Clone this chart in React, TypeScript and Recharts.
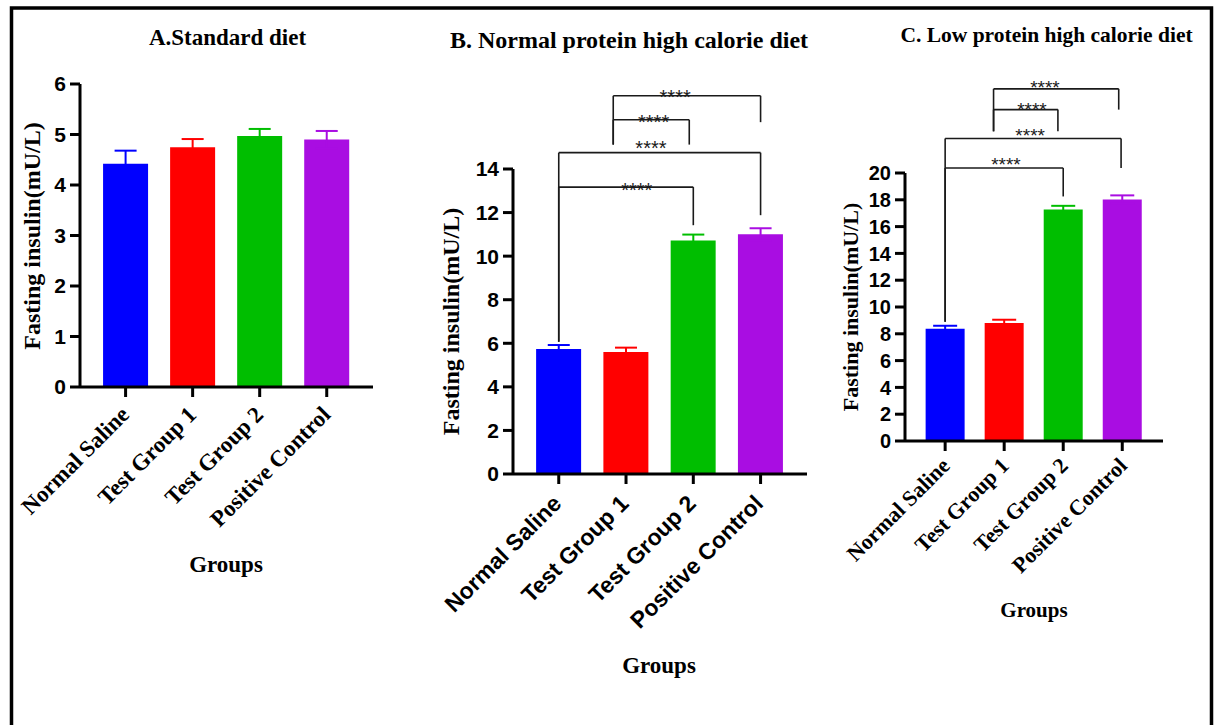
import React from 'react';
import {
  ComposedChart,
  Bar,
  Cell,
  Scatter,
  ErrorBar,
  XAxis,
  YAxis,
  ReferenceLine,
  ReferenceDot,
} from 'recharts';

const SERIF = "'Liberation Serif', 'Times New Roman', serif";
const SANS = "'Liberation Sans', Arial, sans-serif";

const groups = ['Normal Saline', 'Test Group 1', 'Test Group 2', 'Positive Control'];
const groupColors = ['#0000FF', '#FF0000', '#00BE00', '#A90DE2'];

// A. Standard diet
const standardMean = [4.42, 4.75, 4.97, 4.9];
const standardSem = [0.26, 0.16, 0.14, 0.17];
const standardTicks = [0, 1, 2, 3, 4, 5, 6];

// B. Normal protein high calorie diet
const normalProteinMean = [5.74, 5.6, 10.72, 11.0];
const normalProteinSem = [0.18, 0.2, 0.27, 0.28];
const normalProteinTicks = [0, 2, 4, 6, 8, 10, 12, 14];

// C. Low protein high calorie diet
const lowProteinMean = [8.38, 8.8, 17.28, 18.02];
const lowProteinSem = [0.22, 0.25, 0.27, 0.31];
const lowProteinTicks = [0, 2, 4, 6, 8, 10, 12, 14, 16, 18, 20];

type Bracket = {
  from: number;
  to: number;
  level: number;
  fromEnd: number;
  toEnd: number;
  starAt: number;
  starLevel: number;
};

// significance brackets (group index on x, insulin value on y)
const normalProteinBrackets: Bracket[] = [
  { from: 0, to: 2, level: 13.17, fromEnd: 6.07, toEnd: 11.42, starAt: 1.16, starLevel: 13.1 },
  { from: 0, to: 3, level: 14.75, fromEnd: 6.07, toEnd: 11.88, starAt: 1.37, starLevel: 15.04 },
  { from: 0.81, to: 1.94, level: 16.26, fromEnd: 15.12, toEnd: 15.12, starAt: 1.41, starLevel: 16.22 },
  { from: 0.81, to: 3, level: 17.36, fromEnd: 15.12, toEnd: 16.15, starAt: 1.73, starLevel: 17.37 },
];

const lowProteinBrackets: Bracket[] = [
  { from: 0, to: 2, level: 20.37, fromEnd: 8.9, toEnd: 18.25, starAt: 1.03, starLevel: 20.79 },
  { from: 0, to: 2.98, level: 22.57, fromEnd: 8.9, toEnd: 20.37, starAt: 1.44, starLevel: 22.94 },
  { from: 0.82, to: 1.91, level: 24.73, fromEnd: 23.11, toEnd: 23.11, starAt: 1.47, starLevel: 24.83 },
  { from: 0.82, to: 2.94, level: 26.28, fromEnd: 23.11, toEnd: 24.73, starAt: 1.69, starLevel: 26.48 },
];

const axisStyle = { stroke: '#000', strokeWidth: 3 };

interface PanelProps {
  mean: number[];
  sem: number[];
  ticks: number[];
  brackets: Bracket[];
  left: number;
  width: number;
  height: number;
  plotTop: number;
  plotBottom: number;
  yAxisWidth: number;
  right: number;
  barSize: number;
  capWidth: number;
  tickSize: number;
  labelFont: string;
  labelSize: number;
  labelShift: [number, number];
  starSize: number;
}

const Panel: React.FC<PanelProps> = (p) => {
  const rows = p.mean.map((m, i) => ({ x: i, mean: m, sem: p.sem[i] }));

  const renderGroupTick = (props: any) => {
    const { x, y, payload } = props;
    return (
      <text
        x={0}
        y={0}
        transform={`translate(${x + p.labelShift[0]},${y + p.labelShift[1]}) rotate(-45)`}
        textAnchor="end"
        fontFamily={p.labelFont}
        fontWeight={700}
        fontSize={p.labelSize}
        fill="#000"
      >
        {groups[payload.value]}
      </text>
    );
  };

  const bracketLine = { stroke: '#1a1a1a', strokeWidth: 1.6, ifOverflow: 'visible' as const };

  const bracketMarks = p.brackets.flatMap((b, i) => [
    <ReferenceLine
      key={`h${i}`}
      segment={[{ x: b.from, y: b.level }, { x: b.to, y: b.level }]}
      {...bracketLine}
    />,
    <ReferenceLine
      key={`l${i}`}
      segment={[{ x: b.from, y: b.fromEnd }, { x: b.from, y: b.level }]}
      {...bracketLine}
    />,
    <ReferenceLine
      key={`r${i}`}
      segment={[{ x: b.to, y: b.toEnd }, { x: b.to, y: b.level }]}
      {...bracketLine}
    />,
    <ReferenceDot
      key={`s${i}`}
      x={b.starAt}
      y={b.starLevel}
      r={0}
      ifOverflow="visible"
      shape={(d: any) => (
        <text
          x={d.cx}
          y={d.cy + p.starSize * 0.43}
          textAnchor="middle"
          fontFamily={SANS}
          fontSize={p.starSize}
          fill="#1a1a1a"
        >
          ****
        </text>
      )}
    />,
  ]);

  return (
    <div style={{ position: 'absolute', left: p.left, top: 0, width: p.width, height: p.height }}>
      <ComposedChart
        width={p.width}
        height={p.height}
        data={rows}
        margin={{ top: p.plotTop, right: p.right, bottom: 0, left: 0 }}
      >
        <XAxis
          type="number"
          dataKey="x"
          domain={[-0.68, 3.69]}
          ticks={[0, 1, 2, 3]}
          interval={0}
          allowDataOverflow
          height={p.height - p.plotBottom}
          tickSize={10}
          tickMargin={2}
          axisLine={axisStyle}
          tickLine={axisStyle}
          tick={renderGroupTick}
        />
        <YAxis
          type="number"
          domain={[0, p.ticks[p.ticks.length - 1]]}
          ticks={p.ticks}
          interval={0}
          allowDataOverflow
          width={p.yAxisWidth}
          tickSize={10}
          tickMargin={4}
          axisLine={axisStyle}
          tickLine={axisStyle}
          tick={{ fill: '#000', fontSize: p.tickSize, fontWeight: 700, fontFamily: SANS }}
        />
        <Bar dataKey="mean" barSize={p.barSize} isAnimationActive={false}>
          {rows.map((r, i) => (
            <Cell key={`c${i}`} fill={groupColors[i]} />
          ))}
        </Bar>
        {rows.map((r, i) => (
          <Scatter
            key={`e${i}`}
            data={[r]}
            dataKey="mean"
            shape={() => <g />}
            isAnimationActive={false}
          >
            <ErrorBar
              dataKey="sem"
              direction="y"
              width={p.capWidth}
              stroke={groupColors[i]}
              strokeWidth={2}
              isAnimationActive={false}
            />
          </Scatter>
        ))}
        {bracketMarks}
      </ComposedChart>
    </div>
  );
};

const App: React.FC = () => {
  return (
    <div
      style={{
        position: 'absolute',
        left: 0,
        top: 0,
        width: 1216,
        height: 725,
        background: '#fff',
        overflow: 'hidden',
      }}
    >
      <Panel
        mean={standardMean}
        sem={standardSem}
        ticks={standardTicks}
        brackets={[]}
        left={0}
        width={400}
        height={620}
        plotTop={84}
        plotBottom={387}
        yAxisWidth={80}
        right={27}
        barSize={45}
        capWidth={11}
        tickSize={21}
        labelFont={SERIF}
        labelSize={23}
        labelShift={[5, 17]}
        starSize={20}
      />
      <Panel
        mean={normalProteinMean}
        sem={normalProteinSem}
        ticks={normalProteinTicks}
        brackets={normalProteinBrackets}
        left={420}
        width={400}
        height={700}
        plotTop={169}
        plotBottom={474}
        yAxisWidth={93}
        right={13}
        barSize={45}
        capWidth={11}
        tickSize={21}
        labelFont={SANS}
        labelSize={23}
        labelShift={[4, 19]}
        starSize={20}
      />
      <Panel
        mean={lowProteinMean}
        sem={lowProteinSem}
        ticks={lowProteinTicks}
        brackets={lowProteinBrackets}
        left={830}
        width={386}
        height={680}
        plotTop={173}
        plotBottom={441}
        yAxisWidth={75}
        right={53}
        barSize={39}
        capWidth={12}
        tickSize={20}
        labelFont={SERIF}
        labelSize={22}
        labelShift={[6, 14]}
        starSize={19}
      />
      <svg
        width={1216}
        height={725}
        style={{ position: 'absolute', left: 0, top: 0, pointerEvents: 'none' }}
      >
        <path d="M11.5 725 L11.5 8 L1211.5 8 L1211.5 725" fill="none" stroke="#000" strokeWidth={3.5} />
        <g fontFamily={SERIF} fontWeight={700} fill="#000" textAnchor="middle">
          <text x={227.5} y={45} fontSize={23}>A.Standard diet</text>
          <text x={629} y={48} fontSize={24}>B. Normal protein high calorie diet</text>
          <text x={1046.5} y={41.5} fontSize={21.5}>C. Low protein high calorie diet</text>
          <text transform="translate(40,236) rotate(-90)" fontSize={24}>Fasting insulin(mU/L)</text>
          <text transform="translate(459,321.5) rotate(-90)" fontSize={24}>Fasting insulin(mU/L)</text>
          <text transform="translate(858,307) rotate(-90)" fontSize={22}>Fasting insulin(mU/L)</text>
          <text x={226} y={572} fontSize={23}>Groups</text>
          <text x={659} y={673} fontSize={23}>Groups</text>
          <text x={1034} y={617} fontSize={21}>Groups</text>
        </g>
      </svg>
    </div>
  );
};

export default App;
